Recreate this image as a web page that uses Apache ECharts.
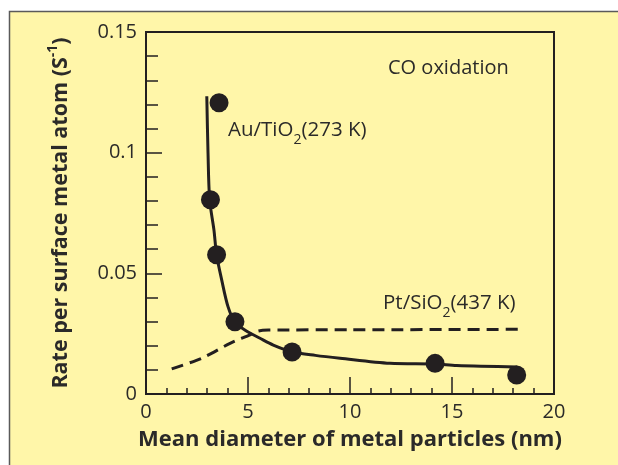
<!DOCTYPE html>
<html>
<head>
<meta charset="utf-8">
<script src="https://cdn.jsdelivr.net/npm/echarts@6/dist/echarts.min.js"></script>
<style>
  html, body { margin: 0; padding: 0; background: #ffffff; }
  #chart { width: 618px; height: 465px; }
</style>
</head>
<body>
<div id="chart"></div>
<script>
// Au/TiO2 measured points
var auX = [3.58, 3.16, 3.46, 4.36, 7.16, 14.17, 18.17];
var auY = [0.1207, 0.0805, 0.0577, 0.0299, 0.0174, 0.0127, 0.0079];
// Au/TiO2 fitted curve (traced)
var auCurveX = [2.98, 3.04, 3.12, 3.33, 3.46, 3.71, 4.02, 4.36, 4.9, 5.59, 6.24, 7.16, 8.3, 9.51, 11.96, 14.17, 15.23, 18.2];
var auCurveY = [0.1234, 0.100, 0.0805, 0.068, 0.0577, 0.0473, 0.0362, 0.0299, 0.0262, 0.0231, 0.0203, 0.0175, 0.0160, 0.0148, 0.0127, 0.0124, 0.0118, 0.0112];
// Pt/SiO2 dashed curve (traced)
var ptX = [1.26, 2.73, 4.12, 5.1, 5.5, 6.0, 10, 18.33];
var ptY = [0.0104, 0.0148, 0.021, 0.0245, 0.0261, 0.0265, 0.0266, 0.0268];
// Axis ticks
var xTicks = [0, 5, 10, 15, 20];
var yTicks = [0, 0.05, 0.1, 0.15];

var ink = '#231f20';
var txt = '#2b2a29';
var font = 'Open Sans';

function zip(a, b) { return a.map(function (v, i) { return [v, b[i]]; }); }

var labelRich = {
  n: { fontFamily: font, fontSize: 20.5, lineHeight: 24, verticalAlign: 'top', color: txt },
  s: { fontFamily: font, fontSize: 14, verticalAlign: 'top', padding: [13, 0, 0, 0], color: txt }
};

var chart = echarts.init(document.getElementById('chart'), null, { renderer: 'canvas' });
chart.setOption({
  animation: false,
  backgroundColor: '#ffffff',
  graphic: [
    { type: 'rect', z: -10, shape: { x: 9.5, y: 11.5, width: 640, height: 480 },
      style: { fill: '#fff6a9', stroke: '#5a5a5a', lineWidth: 1.5 } },
    { type: 'text', left: 388, top: 58, z: 10,
      style: { text: 'CO oxidation', font: '20px "' + font + '"', fill: txt } },
    { type: 'text', left: 228, top: 120, z: 10,
      style: { text: '{n|Au/TiO}{s|2}{n|(273 K)}', fill: txt, rich: labelRich } },
    { type: 'text', left: 383, top: 293, z: 10,
      style: { text: '{n|Pt/SiO}{s|2}{n|(437 K)}', fill: txt, rich: labelRich } }
  ],
  grid: { left: 146, top: 32, right: 64, bottom: 71, show: true,
          borderColor: ink, borderWidth: 2, backgroundColor: 'transparent', containLabel: false },
  xAxis: {
    type: 'value', min: xTicks[0], max: xTicks[xTicks.length - 1], interval: 5,
    name: 'Mean diameter of metal particles (nm)', nameLocation: 'middle', nameGap: 35,
    nameTextStyle: { fontFamily: font, fontSize: 22, fontWeight: 'bold', color: txt },
    axisLine: { lineStyle: { color: ink, width: 2 } },
    axisTick: { inside: true, length: 17, lineStyle: { color: ink, width: 1.5 } },
    minorTick: { show: true, splitNumber: 5, length: 6, lineStyle: { color: ink, width: 1.5 } },
    splitLine: { show: false },
    axisLabel: { fontFamily: font, fontSize: 20, color: txt, margin: 8 }
  },
  yAxis: {
    type: 'value', min: yTicks[0], max: yTicks[yTicks.length - 1], interval: 0.05,
    name: '{b|Rate per surface metal atom (S}{sup|-1}{b|)}', nameLocation: 'middle', nameGap: 74,
    nameTextStyle: { fontFamily: font, fontSize: 21.5, fontWeight: 'bold', color: txt,
      rich: {
        b: { fontFamily: font, fontSize: 21.5, fontWeight: 'bold', color: txt, lineHeight: 26, verticalAlign: 'bottom' },
        sup: { fontFamily: font, fontSize: 14, fontWeight: 'bold', color: txt, verticalAlign: 'bottom', padding: [0, 0, 12, 0] }
      } },
    axisLine: { lineStyle: { color: ink, width: 2 } },
    axisTick: { inside: true, length: 16, lineStyle: { color: ink, width: 1.5 } },
    minorTick: { show: true, splitNumber: 5, length: 12, lineStyle: { color: ink, width: 1.5 } },
    splitLine: { show: false },
    axisLabel: { fontFamily: font, fontSize: 20, color: txt, margin: 9 }
  },
  series: [
    { type: 'line', name: 'Au curve', data: zip(auCurveX, auCurveY), smooth: 0.3,
      showSymbol: false, symbol: 'none', lineStyle: { color: ink, width: 3 }, z: 3 },
    { type: 'line', name: 'Pt curve', data: zip(ptX, ptY), smooth: 0.25,
      showSymbol: false, symbol: 'none', lineStyle: { color: ink, width: 3, type: [12, 7] }, z: 3 },
    { type: 'scatter', name: 'Au points', data: zip(auX, auY), symbol: 'circle', symbolSize: 19,
      itemStyle: { color: ink, opacity: 1 }, z: 4 }
  ]
});
</script>
</body>
</html>
